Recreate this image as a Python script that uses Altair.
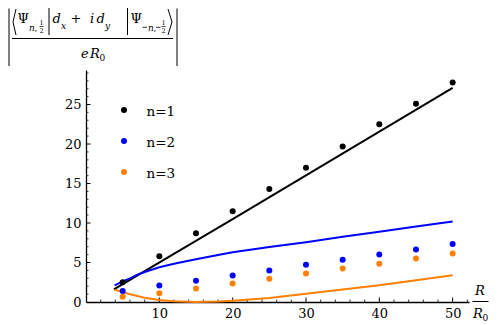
import altair as alt
import pandas as pd

# ---------------- data ----------------
series_names = ["n=1", "n=2", "n=3"]
series_colors = ["#000000", "#0000ff", "#ff8000"]

R_points = [5, 10, 15, 20, 25, 30, 35, 40, 45, 50]
n1_points = [2.5, 5.8, 8.7, 11.5, 14.3, 17.0, 19.7, 22.5, 25.1, 27.8]
n2_points = [1.4, 2.1, 2.7, 3.35, 4.0, 4.7, 5.35, 6.0, 6.65, 7.35]
n3_points = [0.65, 1.1, 1.7, 2.35, 2.95, 3.6, 4.25, 4.85, 5.5, 6.15]

n1_curve_R = [3.8, 20, 50]
n1_curve = [1.6, 10.5, 27.1]
curve_R = [3.9, 5, 6, 7, 8, 10, 12, 15, 18, 20, 25, 30, 35, 40, 45, 50]
n2_curve = [2.1, 2.6, 3.0, 3.45, 3.8, 4.4, 4.85, 5.4, 5.95, 6.3, 6.95, 7.57, 8.25, 8.9, 9.55, 10.2]
n3_curve = [1.55, 1.25, 0.98, 0.75, 0.55, 0.25, 0.08, 0.0, 0.05, 0.15, 0.5, 1.04, 1.58, 2.13, 2.75, 3.4]

x_major = [10, 20, 30, 40, 50]
x_minor = [2, 4, 6, 8, 12, 14, 16, 18, 22, 24, 26, 28, 32, 34, 36, 38, 42, 44, 46, 48, 52]
y_major = [0, 5, 10, 15, 20, 25]
y_minor = [1, 2, 3, 4, 6, 7, 8, 9, 11, 12, 13, 14, 16, 17, 18, 19, 21, 22, 23, 24, 26, 27, 28, 29]

# ---------------- layout ----------------
W, H = 383, 232
OX, OY = 86, 70  # page position of the plot origin (top-left)
SERIF = "DejaVu Serif"

points = pd.DataFrame({
    "R": R_points * 3,
    "v": n1_points + n2_points + n3_points,
    "s": [series_names[0]] * 10 + [series_names[1]] * 10 + [series_names[2]] * 10,
})
curves = pd.DataFrame({
    "R": n1_curve_R + curve_R + curve_R,
    "v": n1_curve + n2_curve + n3_curve,
    "s": [series_names[0]] * len(n1_curve_R) + [series_names[1]] * len(curve_R) + [series_names[2]] * len(curve_R),
})

xs = alt.Scale(domain=[0, 52.23], nice=False, zero=False)
ys = alt.Scale(domain=[0, 29.37], nice=False, zero=False)
xaxis = alt.Axis(values=x_major, title=None, ticks=False, grid=False, labelFont=SERIF,
                 labelFontSize=13, labelColor="black", labelPadding=5, domainColor="black",
                 domainWidth=1.3)
yaxis = alt.Axis(values=y_major, title=None, ticks=False, grid=False, labelFont=SERIF,
                 labelFontSize=13, labelColor="black", labelPadding=5, domainColor="black",
                 domainWidth=1.3)
cscale = alt.Scale(domain=series_names, range=series_colors)


def X(f):
    return alt.X(f, scale=xs, axis=xaxis)


def Y(f):
    return alt.Y(f, scale=ys, axis=yaxis)


one = alt.Data(values=[{}])

# formula offset (kept inside the page margin)
FX, FY = 7, 5


def txt(s, xp, yp, size=13, italic=False, align="left"):
    return alt.Chart(one).mark_text(
        text=s, font=SERIF, fontSize=size, fontStyle="italic" if italic else "normal",
        align=align, baseline="alphabetic", color="black"
    ).encode(x=alt.value(xp - OX), y=alt.value(yp - OY))


def seg(x1, y1, x2, y2, w=1.0):
    return alt.Chart(one).mark_rule(color="black", strokeWidth=w).encode(
        x=alt.value(x1 - OX), y=alt.value(y1 - OY), x2=alt.value(x2 - OX), y2=alt.value(y2 - OY)
    )


def ftxt(s, xp, yp, size=13, italic=False, align="left"):
    return txt(s, xp + FX, yp + FY, size, italic, align)


def fseg(x1, y1, x2, y2, w=1.0):
    return seg(x1 + FX, y1 + FY, x2 + FX, y2 + FY, w)


lines = alt.Chart(curves).mark_line(strokeWidth=2).encode(
    x=X("R:Q"), y=Y("v:Q"), color=alt.Color("s:N", scale=cscale, legend=None), detail="s:N"
)
dots = alt.Chart(points).mark_circle(size=36, opacity=1).encode(
    x=X("R:Q"), y=Y("v:Q"), color=alt.Color("s:N", scale=cscale, legend=None)
)

xt_major = alt.Chart(pd.DataFrame({"t": x_major})).mark_rule(color="black", strokeWidth=1).encode(
    x=X("t:Q"), y=alt.value(H), y2=alt.value(H - 4.5))
xt_minor = alt.Chart(pd.DataFrame({"t": x_minor})).mark_rule(color="black", strokeWidth=0.8).encode(
    x=X("t:Q"), y=alt.value(H), y2=alt.value(H - 2.5))
yt_major = alt.Chart(pd.DataFrame({"t": y_major[1:]})).mark_rule(color="black", strokeWidth=1).encode(
    y=Y("t:Q"), x=alt.value(0), x2=alt.value(4.5))
yt_minor = alt.Chart(pd.DataFrame({"t": y_minor})).mark_rule(color="black", strokeWidth=0.8).encode(
    y=Y("t:Q"), x=alt.value(0), x2=alt.value(2.5))

# legend
legend_layers = []
for i, (name, col) in enumerate(zip(series_names, series_colors)):
    yp = 110 + 31 * i
    legend_layers.append(
        alt.Chart(one).mark_circle(size=36, opacity=1, color=col).encode(
            x=alt.value(124 - OX), y=alt.value(yp - OY)))
    legend_layers.append(
        alt.Chart(one).mark_text(text=name, font=SERIF, fontSize=13.5, align="left",
                                 baseline="alphabetic", color="black").encode(
            x=alt.value(146.5 - OX), y=alt.value(yp + 5.5 - OY)))

# formula label (top-left)
formula = [
    seg(9, 8.5, 9, 66), seg(170 + FX, 8.5, 170 + FX, 66),
    fseg(9, 4, 6, 17), fseg(6, 17, 9, 30),
    ftxt("Ψ", 10.5, 17.5),
    ftxt("n", 22, 25.5, 9, italic=True), ftxt(",", 27.5, 25.5, 9),
    ftxt("1", 34.5, 19.5, 6.5, align="center"), fseg(32.5, 21.5, 36.5, 21.5, 0.7),
    ftxt("2", 34.5, 28, 6.5, align="center"),
    fseg(42, 3, 42, 30),
    ftxt("d", 45.5, 17.5, italic=True),
    ftxt("x", 54, 24, 9, italic=True),
    ftxt("+", 63.5, 17.5),
    ftxt("i", 83, 17.5, italic=True),
    ftxt("d", 89.5, 17.5, italic=True),
    ftxt("y", 98, 24, 9, italic=True),
    fseg(120.5, 3, 120.5, 30),
    ftxt("Ψ", 123.5, 17.5),
    fseg(135.5, 22.3, 140, 22.3, 0.8),
    ftxt("n", 141, 25.5, 9, italic=True), ftxt(",", 146.5, 25.5, 9),
    fseg(149, 22.3, 153.5, 22.3, 0.8),
    ftxt("1", 156.5, 19.5, 6.5, align="center"), fseg(154.5, 21.5, 158.5, 21.5, 0.7),
    ftxt("2", 156.5, 28, 6.5, align="center"),
    fseg(161, 4, 165, 17), fseg(165, 17, 161, 30),
    fseg(5, 33.5, 166, 33.5),
    ftxt("e", 74, 53, italic=True),
    ftxt("R", 83, 53, italic=True),
    ftxt("0", 92.5, 56, 9),
]

# x-axis label R / R0
xlabel = [
    txt("R", 475, 295, italic=True),
    seg(472.5, 301.5, 488.5, 301.5),
    txt("R", 473, 318, italic=True),
    txt("0", 482.5, 321, 9),
]

chart = alt.layer(
    xt_minor, xt_major, yt_minor, yt_major, lines, dots, *legend_layers, *formula, *xlabel
).properties(
    width=W, height=H,
    padding={"left": OX - 8, "top": OY - 8, "right": 490 - OX - W, "bottom": 316 - (OY - 8) - H},
    autosize=alt.AutoSizeParams(type="none"),
).configure_view(stroke=None)

chart.save("out.html", embed_options={"renderer": "svg", "actions": False})
